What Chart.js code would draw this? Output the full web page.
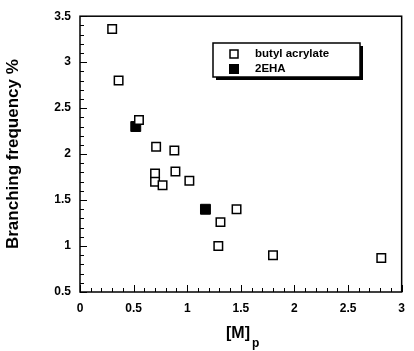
<!DOCTYPE html>
<html>
<head>
<meta charset="utf-8">
<script src="https://cdn.jsdelivr.net/npm/chart.js@4"></script>
<style>
  html, body { margin: 0; padding: 0; background: #fff; }
  #wrap { width: 414px; height: 351px; }
</style>
</head>
<body>
<div id="wrap"><canvas id="chart" width="414" height="351"></canvas></div>
<script>
// Dữ liệu
const butylX = [0.30, 0.36, 0.55, 0.71, 0.88, 0.70, 0.89, 1.02, 0.70, 0.77, 1.46, 1.31, 1.29, 1.80, 2.81];
const butylY = [3.36, 2.80, 2.37, 2.08, 2.04, 1.79, 1.81, 1.71, 1.70, 1.66, 1.40, 1.26, 1.00, 0.90, 0.87];
const ehaX = [0.52, 1.17];
const ehaY = [2.30, 1.40];
const xTicks = [0, 0.5, 1, 1.5, 2, 2.5, 3];
const yTicks = [0.5, 1, 1.5, 2, 2.5, 3, 3.5];
const seriesNames = ['butyl acrylate', '2EHA'];

const FONT = '"Liberation Sans", Arial, sans-serif';

function toPoints(xs, ys) {
    return xs.map((x, i) => ({ x: x, y: ys[i] }));
}

// Vẽ khung, vạch chia hướng vào trong, tiêu đề trục x và chú thích
const decorPlugin = {
    id: 'decor',
    afterDraw(chart) {
        const ctx = chart.ctx;
        const a = chart.chartArea;
        const xs = chart.scales.x;
        const ys = chart.scales.y;
        ctx.save();
        ctx.strokeStyle = '#000';
        ctx.lineWidth = 1.5;
        ctx.strokeRect(a.left, a.top, a.right - a.left, a.bottom - a.top);

        // vạch chia trục x
        ctx.lineWidth = 1;
        for (let i = 0; i <= 30; i++) {
            const v = i / 10;
            const px = Math.round(xs.getPixelForValue(v)) + 0.5;
            const len = (i % 5 === 0) ? 7 : 4;
            ctx.beginPath();
            ctx.moveTo(px, a.bottom);
            ctx.lineTo(px, a.bottom - len);
            ctx.stroke();
        }
        // vạch chia trục y
        for (let i = 5; i <= 35; i++) {
            const v = i / 10;
            const py = Math.round(ys.getPixelForValue(v)) + 0.5;
            const len = (i % 5 === 0) ? 7 : 4;
            ctx.beginPath();
            ctx.moveTo(a.left, py);
            ctx.lineTo(a.left + len, py);
            ctx.stroke();
        }

        // tiêu đề trục x: [M]p
        ctx.fillStyle = '#000';
        ctx.textBaseline = 'middle';
        ctx.textAlign = 'left';
        ctx.font = 'bold 16px ' + FONT;
        const main = '[M]';
        const w = ctx.measureText(main).width;
        const cx = 238;
        ctx.fillText(main, cx - w / 2, 334);
        ctx.font = 'bold 12px ' + FONT;
        ctx.fillText('p', cx + w / 2 + 2, 344);

        // chú thích
        const lx = 213, ly = 43, lw = 147, lh = 34;
        ctx.fillStyle = '#000';
        ctx.fillRect(lx + 3, ly + 3, lw, lh);
        ctx.fillStyle = '#fff';
        ctx.fillRect(lx, ly, lw, lh);
        ctx.lineWidth = 1.5;
        ctx.strokeRect(lx, ly, lw, lh);
        const ds = chart.data.datasets;
        const rows = [54, 69];
        ds.forEach((d, i) => {
            const y = rows[i];
            if (d.backgroundColor === '#000') {
                ctx.fillStyle = '#000';
                ctx.fillRect(229, y - 5, 10, 10);
            } else {
                ctx.strokeStyle = '#000';
                ctx.lineWidth = 1.5;
                ctx.strokeRect(230, y - 4, 8, 8);
            }
            ctx.fillStyle = '#000';
            ctx.font = 'bold 11.5px ' + FONT;
            ctx.textAlign = 'left';
            ctx.fillText(d.label, 255, y);
        });
        ctx.restore();
    }
};

new Chart(document.getElementById('chart'), {
    type: 'scatter',
    data: {
        datasets: [{
            label: seriesNames[0],
            data: toPoints(butylX, butylY),
            pointStyle: 'rect',
            radius: 6,
            backgroundColor: '#fff',
            borderColor: '#000',
            borderWidth: 1.5
        }, {
            label: seriesNames[1],
            data: toPoints(ehaX, ehaY),
            pointStyle: 'rect',
            radius: 7,
            backgroundColor: '#000',
            borderColor: '#000',
            borderWidth: 1
        }]
    },
    options: {
        responsive: false,
        animation: false,
        devicePixelRatio: 1,
        layout: { padding: { top: 5, right: 4, left: 0, bottom: 0 } },
        plugins: {
            legend: { display: false },
            tooltip: { enabled: false }
        },
        scales: {
            x: {
                type: 'linear',
                min: 0, max: 3,
                afterBuildTicks: (s) => { s.ticks = xTicks.map(v => ({ value: v })); },
                afterFit: (s) => { s.height = 59; },
                grid: { display: false, drawTicks: false },
                border: { display: false },
                ticks: {
                    color: '#000',
                    padding: 9,
                    font: { family: FONT, size: 12, weight: 'bold' },
                    callback: (v) => String(v)
                }
            },
            y: {
                type: 'linear',
                min: 0.5, max: 3.5,
                afterBuildTicks: (s) => { s.ticks = yTicks.map(v => ({ value: v })); },
                afterFit: (s) => { s.width = 80; },
                grid: { display: false, drawTicks: false },
                border: { display: false },
                title: {
                    display: true,
                    text: 'Branching frequency %',
                    color: '#000',
                    padding: { top: 3, bottom: 0 },
                    font: { family: FONT, size: 17, weight: 'bold' }
                },
                ticks: {
                    color: '#000',
                    padding: 9,
                    font: { family: FONT, size: 12, weight: 'bold' },
                    callback: (v) => String(v)
                }
            }
        }
    },
    plugins: [decorPlugin]
});
</script>
</body>
</html>
